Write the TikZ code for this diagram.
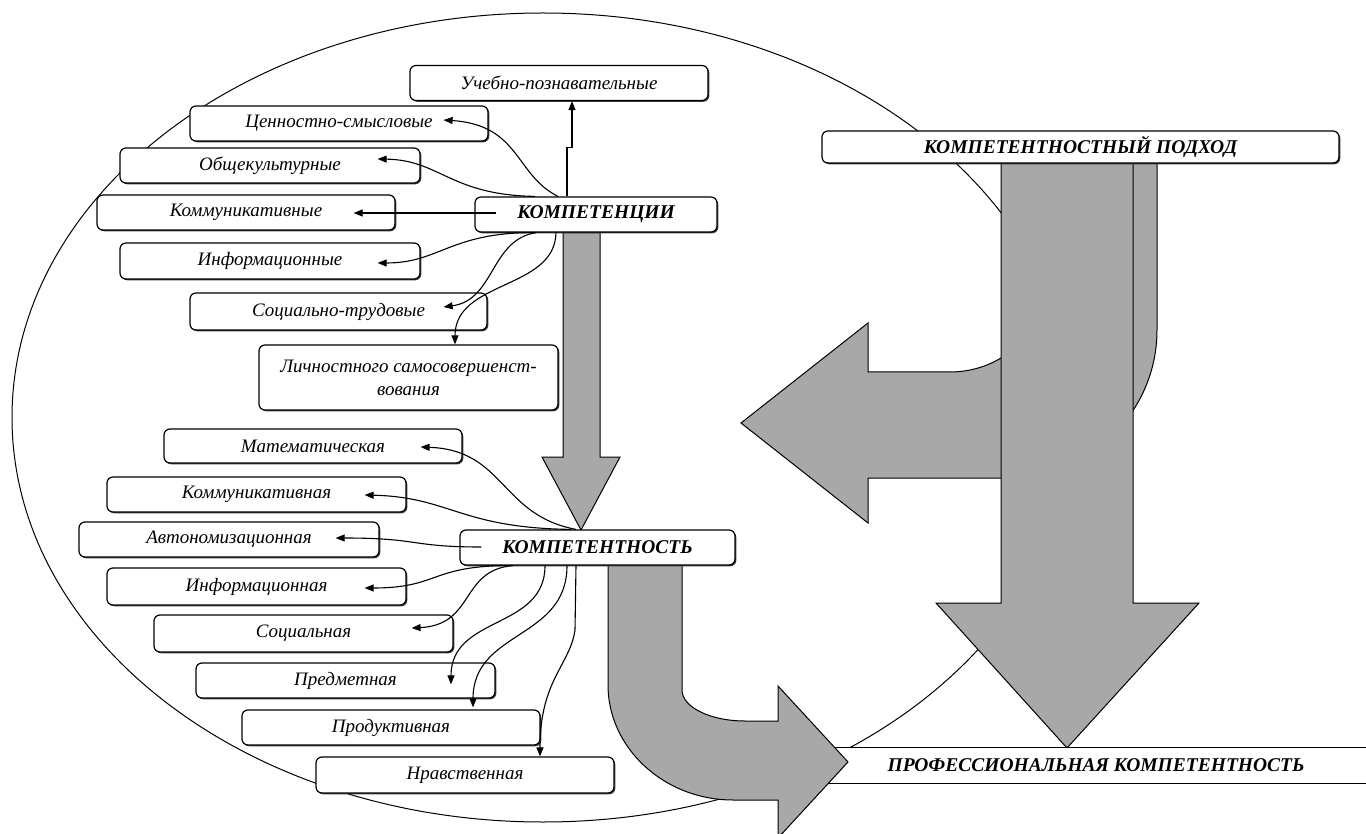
\documentclass[tikz,border=0pt]{standalone}
\usepackage{fontspec}
\setmainfont{Liberation Serif}
\usetikzlibrary{arrows.meta,calc,shadows}
\definecolor{agray}{RGB}{168,168,168}
\pgfdeclarelayer{bg}
\pgfsetlayers{bg,main}
\tikzset{
 bx/.style={draw, line width=1.2pt, rounded corners=6pt, fill=white, minimum height=35pt, minimum width=298pt, inner sep=0pt,
   font=\fontsize{19}{23}\selectfont\itshape,
   drop shadow={shadow xshift=1.3pt,shadow yshift=-1.3pt,fill=black!75,opacity=1}},
 bbx/.style={bx, font=\fontsize{19.5}{22}\selectfont\bfseries\itshape},
 con/.style={draw, line width=1.1pt, -{Triangle[length=9pt,width=7pt]}},
 blk/.style={draw, line width=1pt, fill=agray, line join=miter},
}
\begin{document}
\begin{tikzpicture}[x=1pt,y=-1pt]
\useasboundingbox (0,0) rectangle (1366,834);
\clip (0,0) rectangle (1366,834);
% boxes
\node[bx] (uch) at (559,83) {Учебно-познавательные};
\node[bx] (cen) at (339,123.5) {Ценностно-смысловые};
\node[bx, minimum width=300pt] (obs) at (270,165.5) {Общекультурные};
\node[bx] (kom1) at (246,212.5) {Коммуникативные};
\node[bbx, minimum width=242pt] (kc) at (596,214.5) {КОМПЕТЕНЦИИ};
\node[bx, minimum width=300pt, minimum height=36pt] (inf1) at (270,261) {Информационные};
\node[bx, minimum width=297pt, minimum height=37pt] (soc1) at (338.5,311.5) {Социально-трудовые};
\node[bx, minimum width=299pt, minimum height=65pt, align=center] (lich) at (408.5,377.5) {Личностного самосовершенст-\\вования};
\node[bx, minimum height=34pt] (mat) at (313,446) {Математическая};
\node[bx, minimum width=299pt] (kom2) at (256.5,494.5) {Коммуникативная};
\node[bx, minimum width=300pt] (avt) at (229,539.5) {Автономизационная};
\node[bbx, minimum width=275pt] (kt) at (597.5,547.5) {КОМПЕТЕНТНОСТЬ};
\node[bx, minimum width=299pt, minimum height=37pt] (inf2) at (256.5,586.5) {Информационная};
\node[bx, minimum width=299pt, minimum height=37pt] (soc2) at (303.5,633.5) {Социальная};
\node[bx, minimum width=299pt] (pred) at (345.5,680.5) {Предметная};
\node[bx] (prod) at (391,727.5) {Продуктивная};
\node[bx, minimum height=36pt] (nrav) at (465,775) {Нравственная};
\node[bbx, minimum width=517pt, minimum height=32pt] (kp) at (1080.5,147) {КОМПЕТЕНТНОСТНЫЙ ПОДХОД};

\begin{pgfonlayer}{bg}
\draw[line width=1pt] (543,417.5) ellipse [x radius=531, y radius=404.5];
% hook arrow pointing left
\draw[blk] (1157,163) -- (1157,330) .. controls (1157,412) and (1090,478) .. (1007,478) -- (868,478) -- (868,523) -- (741,423) -- (868,323) -- (868,372) -- (950,372) .. controls (1006,372) and (1051,326) .. (1051,270) -- (1051,163) -- cycle;
% big vertical arrow
\draw[blk] (1001,163) -- (1001,603) -- (936,603) -- (1067,748) -- (1199,603) -- (1133,603) -- (1133,163) -- cycle;
% professional competence box
\node[fill=white, minimum width=540pt, minimum height=35pt, inner sep=0pt, font=\fontsize{19.5}{22}\selectfont\bfseries\itshape] (pk) at (1096,765.5) {ПРОФЕССИОНАЛЬНАЯ КОМПЕТЕНТНОСТЬ};
\draw[line width=1.2pt] (pk.north west) -- (pk.north east) (pk.south west) -- (pk.south east);
% bent arrow
\draw[blk] (608,565) -- (608,685) .. controls (608,748) and (664,800) .. (733,800) -- (778,800) -- (778,838) -- (848,762) -- (778,686) -- (778,721) -- (745,721) .. controls (710,721) and (682,707) .. (682,690) -- (682,565) -- cycle;
% thin arrow KC -> KT
\draw[blk] ($(kc.south)+(-33,0)$) -- (563,457) -- (542,457) -- (581,530) -- (620,457) -- (600,457) -- ($(kc.south)+(4,0)$) -- cycle;
\end{pgfonlayer}

% connectors from KC
\draw[con] ($(kc.north)+(-29,0)$) -- ++(0,-49) -- ++(5,0) -- ($(uch.south)+(13,0)$);
\draw[con] ($(kc.north)+(-38,0)$) .. controls (515,175) and (520,125) .. ($(cen.east)+(-45,-3.5)$);
\draw[con] ($(kc.north)+(-61,0)$) .. controls (450,195) and (440,160) .. ($(obs.east)+(-43,-6.5)$);
\draw[con] ($(kc.west)+(22,-1.5)$) -- ($(kom1.east)+(-42,0.5)$);
\draw[con] ($(kc.south)+(-60,0)$) .. controls (450,232) and (440,263) .. ($(inf1.east)+(-43,2)$);
\draw[con] ($(kc.south)+(-60,0)$) .. controls (490,240) and (495,300) .. ($(soc1.east)+(-44,-4.5)$);
\draw[con] ($(kc.south)+(-40,0)$) .. controls (555,290) and (455,280) .. ($(lich.north)+(46.5,0)$);
% connectors from KT
\draw[con] ($(kt.north)+(-21.5,0)$) .. controls (500,515) and (505,450) .. ($(mat.east)+(-42,1)$);
\draw[con] ($(kt.north)+(-26.5,0)$) .. controls (460,528) and (450,497) .. ($(kom2.east)+(-42,0.5)$);
\draw[con] ($(kt.west)+(22,-0.5)$) .. controls (410,547) and (420,538) .. ($(avt.east)+(-44,-1.5)$);
\draw[con] ($(kt.south)+(-84.5,0)$) .. controls (430,565) and (440,588) .. ($(inf2.east)+(-42,1.5)$);
\draw[con] ($(kt.south)+(-84.5,0)$) .. controls (460,570) and (475,625) .. ($(soc2.east)+(-42,-5.5)$);
\draw[con] ($(kt.south)+(-52.5,0)$) .. controls (545,630) and (451,615) .. ($(pred.north)+(105.5,22)$);
\draw[con] ($(kt.south)+(-30.5,0)$) .. controls (567,640) and (473,630) .. ($(prod.north)+(82,-2)$);
\draw[con] ($(kt.south)+(-21.5,0)$) -- (575,630) .. controls (570,665) and (540,680) .. ($(nrav.north)+(75,0)$);
\end{tikzpicture}
\end{document}
